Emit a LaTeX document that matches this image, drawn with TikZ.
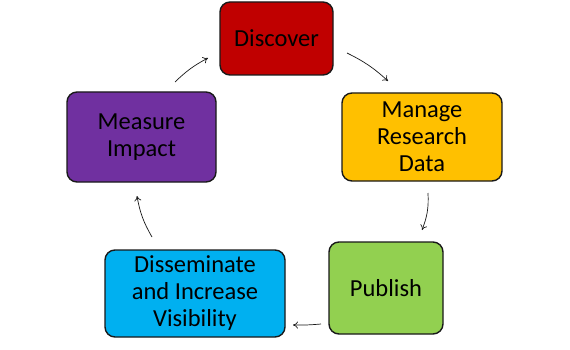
\documentclass[tikz,border=0pt]{standalone}
\usepackage{fontspec}
\setmainfont{Carlito}
\usetikzlibrary{arrows.meta}
\definecolor{cred}{HTML}{C00000}
\definecolor{cyel}{HTML}{FFC000}
\definecolor{cgrn}{HTML}{92D050}
\definecolor{cblu}{HTML}{00B0F0}
\definecolor{cpur}{HTML}{7030A0}
\begin{document}
\begin{tikzpicture}[x=1pt,y=-1pt,
  stage/.style={draw=black!90,line width=1.4pt,rounded corners=10pt,align=center,
    font=\fontsize{24.5}{27}\selectfont,text=black,inner sep=0pt},
  flow/.style={-{To[length=5pt,width=7pt]},line width=0.7pt,black!90}]
\useasboundingbox (0,0) rectangle (570,350);
\fill[white] (0,0) rectangle (570,350);
\node[stage,fill=cred,minimum width=113pt,minimum height=73pt] (disc) at (276.5,38.5) {Discover};
\node[stage,fill=cyel,minimum width=160pt,minimum height=88pt] (man) at (422,137) {Manage\\Research\\Data};
\node[stage,fill=cgrn,minimum width=114pt,minimum height=92pt] (pub) at (386,288) {Publish};
\node[stage,fill=cblu,minimum width=180pt,minimum height=87pt] (dis) at (195,293.5) {Disseminate\\and Increase\\Visibility};
\node[stage,fill=cpur,minimum width=149pt,minimum height=90pt] (mea) at (141.5,137) {Measure\\Impact};
\coordinate (a1) at (175,82); \coordinate (b1) at (208,58);
\coordinate (a2) at (347,53); \coordinate (b2) at (388,81);
\coordinate (a3) at (428,193); \coordinate (b3) at (422,230);
\coordinate (a4) at (321,324); \coordinate (b4) at (293,325);
\coordinate (a5) at (152,237); \coordinate (b5) at (137,196);
\draw[flow] (a1) to[bend left=8] (b1);
\draw[flow] (a2) to[bend left=8] (b2);
\draw[flow] (a3) to[bend left=12] (b3);
\draw[flow] (a4) to[bend left=3] (b4);
\draw[flow] (a5) to[bend left=10] (b5);
\end{tikzpicture}
\end{document}
